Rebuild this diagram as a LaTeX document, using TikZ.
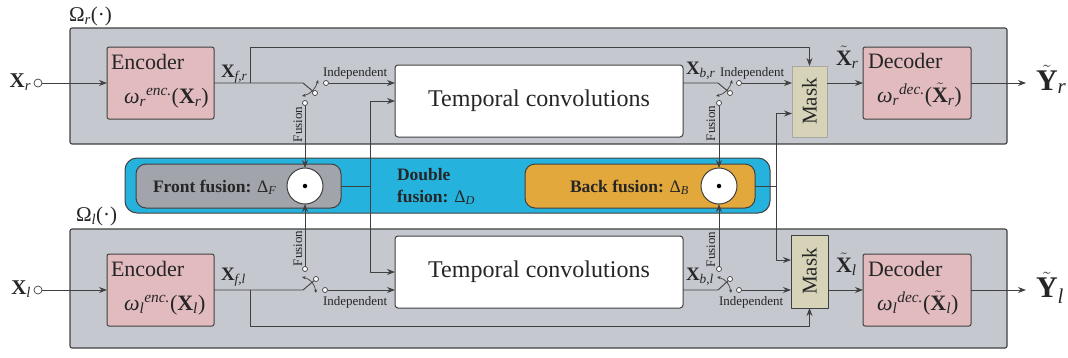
\documentclass[tikz,border=0pt]{standalone}
\usepackage{fontspec}
\setmainfont{Liberation Serif}
\usepackage{amsmath}
\usetikzlibrary{arrows.meta,calc}
\definecolor{lc}{HTML}{404040}
\definecolor{txc}{HTML}{262626}
\definecolor{grpc}{HTML}{C5C8CF}
\definecolor{pinkc}{HTML}{E2BBBE}
\definecolor{maskc}{HTML}{D6D3B9}
\definecolor{mlight}{HTML}{A8A8A2}
\definecolor{bluec}{HTML}{25B3DE}
\definecolor{fgray}{HTML}{A1A4AA}
\definecolor{orangec}{HTML}{E3A83B}
\newcommand\mi[1]{\text{\normalfont\itshape #1}}
\newcommand\bX{\textbf{X}}
\newcommand\fsz[1]{\fontsize{#1}{#1}\selectfont}
\begin{document}
\begin{tikzpicture}[x=1pt,y=-1pt,line join=round,
 ln/.style={draw=lc, line width=0.9pt},
 arr/.style={ln, -{Stealth[length=8pt,width=6pt]}},
 swarr/.style={ln, line width=0.7pt, {Stealth[length=3.5pt,width=3pt]}-{Stealth[length=3.5pt,width=3pt]}},
 grp/.style={draw=lc, fill=grpc, line width=1.1pt, rounded corners=2pt, inner sep=0pt, outer sep=0pt},
 pinkbox/.style={draw=lc, fill=pinkc, line width=1pt, rounded corners=2pt, inner sep=0pt, outer sep=0pt},
 tcbox/.style={draw=lc, fill=white, line width=1pt, rounded corners=3pt, inner sep=0pt, outer sep=0pt, text=txc, font=\fsz{24}},
 maskbox/.style={fill=maskc, line width=1pt, inner sep=0pt, outer sep=0pt, text=txc, font=\fsz{21}},
 band/.style={draw=lc, fill=bluec, line width=1pt, rounded corners=12pt, inner sep=0pt, outer sep=0pt},
 fusbox/.style={draw=lc, line width=1pt, rounded corners=10pt, inner sep=0pt, outer sep=0pt},
 fcirc/.style={circle, draw=lc, fill=white, line width=1pt, minimum size=36pt, inner sep=0pt, outer sep=0pt},
 dotn/.style={circle, fill=black, minimum size=4.5pt, inner sep=0pt},
 pin/.style={circle, draw=lc, fill=white, line width=0.7pt, minimum size=5pt, inner sep=0pt, outer sep=0pt},
 txt/.style={inner sep=0pt, outer sep=0pt, text=txc},
 ts/.style={txt, font=\fsz{13}},
 tb/.style={txt, font=\bfseries\fsz{17.5}},
 tl/.style={txt, font=\fsz{22}},
 tfus/.style={ts, rotate=90, anchor=base west}
]
\useasboundingbox (0,0) rectangle (1068,357);

% groups
\node[grp, minimum width=937pt, minimum height=116pt] (omR) at (538.5,86) {};
\node[grp, minimum width=937pt, minimum height=119pt] (omL) at (538.5,288.5) {};
\node[txt, anchor=base west, font=\fsz{21}] (omRl) at (69,21) {$\text{Ω}_{\mi{r}}\text{(·)}$};
\node[txt, anchor=base west, font=\fsz{21}] (omLl) at (76,221) {$\text{Ω}_{\mi{l}}\text{(·)}$};

% fusion band
\node[band, minimum width=645pt, minimum height=55pt] (bandn) at (447.5,185.5) {};
\node[fusbox, fill=fgray, minimum width=205pt, minimum height=44pt] (front) at (238.5,186) {};
\node[fusbox, fill=orangec, minimum width=230pt, minimum height=44pt] (back) at (640,186) {};
\node[fcirc] (fcF) at (305,186) {};
\node[dotn] (fcFd) at (fcF) {};
\node[fcirc] (fcB) at (719,186) {};
\node[dotn] (fcBd) at (fcB) {};
\node[tb, anchor=base west] (frontl) at (153,192) {Front fusion: $\text{\normalfont Δ}_{\mi{F}}$};
\node[tb, anchor=base west] (backl) at (570,192) {Back fusion: $\text{\normalfont Δ}_{\mi{B}}$};
\node[tb, anchor=base west] (dfl1) at (397,180) {Double};
\node[tb, anchor=base west] (dfl2) at (397,202) {fusion: $\text{\normalfont Δ}_{\mi{D}}$};

% ---------------- top row ----------------
\node[pin, minimum size=8pt] (inR) at (38,83) {};
\node[txt, anchor=base east, font=\fsz{21}] (inRl) at (31,87) {$\bX_{\mi{r}}$};
\node[pinkbox, minimum width=107pt, minimum height=72pt] (encR) at (160.5,83) {};
\node[tl, anchor=base west] (encRt) at (111,69) {Encoder};
\node[tl, anchor=base west] (encRm) at (124,103) {$\mi{ω}_{\mi{r}}{}^{\mi{enc.}}\text{(}\bX_{\mi{r}}\text{)}$};
\node[txt, anchor=base west, font=\fsz{19}] (xfr) at (221,77) {$\bX_{\mi{f,r}}$};
\node[tcbox, minimum width=288pt, minimum height=72pt] (tcR) at (539,101) {Temporal convolutions};
\node[txt, anchor=base west, font=\fsz{19}] (xbr) at (686,74) {$\bX_{\mi{b,r}}$};
\node[maskbox, draw=mlight, minimum width=35pt, minimum height=71pt] (maskR) at (809.5,101.5) {\rotatebox{90}{Mask}};
\node[txt, anchor=base west, font=\fsz{22}] (xtr) at (836,65) {$\tilde{\bX}_{\mi{r}}$};
\node[pinkbox, minimum width=108pt, minimum height=72pt] (decR) at (917,83) {};
\node[tl, anchor=base west] (decRt) at (868,68) {Decoder};
\node[tl, anchor=base west] (decRm) at (877,102) {$\mi{ω}_{\mi{r}}{}^{\mi{dec.}}\text{(}\tilde{\bX}_{\mi{r}}\text{)}$};
\coordinate (outR) at (1026,83);
\node[txt, anchor=base west, font=\fsz{30}] (yr) at (1036,90) {$\tilde{\textbf{Y}}_{\mi{r}}$};

% switch 1 top
\coordinate (sR1a) at (303,83);
\node[pin] (sR1p) at (315,93) {};
\node[pin] (sR1i) at (326,83) {};
\node[pin] (sR1f) at (305,103) {};
\coordinate (sR1c1) at (302,96);
\coordinate (sR1c2) at (318,80);
\node[ts, anchor=base west] (sR1il) at (323,76) {Independent};
\node[tfus] (sR1fl) at (302,142) {Fusion};
% switch 2 top
\coordinate (sR2a) at (718,83);
\node[pin] (sR2p) at (730,93) {};
\node[pin] (sR2i) at (739,83) {};
\node[pin] (sR2f) at (719,103) {};
\coordinate (sR2c1) at (716,96);
\coordinate (sR2c2) at (732,80);
\node[ts, anchor=base west] (sR2il) at (720,76) {Independent};
\node[tfus] (sR2fl) at (715,141) {Fusion};

% ---------------- bottom row ----------------
\node[pin, minimum size=8pt] (inL) at (38,290) {};
\node[txt, anchor=base east, font=\fsz{21}] (inLl) at (31,294) {$\bX_{\mi{l}}$};
\node[pinkbox, minimum width=107pt, minimum height=72pt] (encL) at (160.5,290) {};
\node[tl, anchor=base west] (encLt) at (111,276) {Encoder};
\node[tl, anchor=base west] (encLm) at (124,310) {$\mi{ω}_{\mi{l}}{}^{\mi{enc.}}\text{(}\bX_{\mi{l}}\text{)}$};
\node[txt, anchor=base west, font=\fsz{19}] (xfl) at (221,280) {$\bX_{\mi{f,l}}$};
\node[tcbox, minimum width=288pt, minimum height=72pt] (tcL) at (539,272) {Temporal convolutions};
\node[txt, anchor=base west, font=\fsz{19}] (xbl) at (686,280) {$\bX_{\mi{b,l}}$};
\node[maskbox, draw=lc, minimum width=37pt, minimum height=73pt] (maskL) at (809.5,271.5) {\rotatebox{90}{Mask}};
\node[txt, anchor=base west, font=\fsz{22}] (xtl) at (836,272) {$\tilde{\bX}_{\mi{l}}$};
\node[pinkbox, minimum width=108pt, minimum height=72pt] (decL) at (917,290) {};
\node[tl, anchor=base west] (decLt) at (868,276) {Decoder};
\node[tl, anchor=base west] (decLm) at (877,310) {$\mi{ω}_{\mi{l}}{}^{\mi{dec.}}\text{(}\tilde{\bX}_{\mi{l}}\text{)}$};
\coordinate (outL) at (1026,290);
\node[txt, anchor=base west, font=\fsz{30}] (yl) at (1036,297) {$\tilde{\textbf{Y}}_{\mi{l}}$};

% switch 1 bottom
\coordinate (sL1a) at (303,290);
\node[pin] (sL1p) at (316,279) {};
\node[pin] (sL1i) at (325,290) {};
\node[pin] (sL1f) at (305,269) {};
\coordinate (sL1c1) at (302,277);
\coordinate (sL1c2) at (316,293);
\node[ts, anchor=base west] (sL1il) at (323,305) {Independent};
\node[tfus] (sL1fl) at (302,266) {Fusion};
% switch 2 bottom
\coordinate (sL2a) at (718,290);
\node[pin] (sL2p) at (730,279) {};
\node[pin] (sL2i) at (739,290) {};
\node[pin] (sL2f) at (719,269) {};
\coordinate (sL2c1) at (717,277);
\coordinate (sL2c2) at (731,293);
\node[ts, anchor=base west] (sL2il) at (719,305) {Independent};
\node[tfus] (sL2fl) at (715,267) {Fusion};

% junction coordinates
\coordinate (byR) at (250,83);
\coordinate (byRc) at (250,47);
\coordinate (byL) at (250,290);
\coordinate (byLc) at (250,326);
\coordinate (ffj) at (370,186);
\coordinate (bfj) at (776,186);

% ---------------- connectors ----------------
% top row
\draw[arr] (inR) -- (encR.west);
\draw[ln] (encR.east) -- (sR1a) -- (sR1p);
\draw[swarr] (sR1c1) .. controls (311,94) and (316,88) .. (sR1c2);
\draw[arr] (sR1i) -- (sR1i -| tcR.west);
\draw[ln] (tcR.east |- sR2a) -- (sR2a) -- (sR2p);
\draw[swarr] (sR2c1) .. controls (725,94) and (730,88) .. (sR2c2);
\draw[arr] (sR2i) -- (sR2i -| maskR.west);
\draw[arr] (byR) -- (byRc) -| (maskR.north);
\draw[arr] (maskR.east |- decR.west) -- (decR.west);
\draw[arr] (decR.east) -- (outR);
% bottom row
\draw[arr] (inL) -- (encL.west);
\draw[ln] (encL.east) -- (sL1a) -- (sL1p);
\draw[swarr] (sL1c1) .. controls (311,279) and (315,285) .. (sL1c2);
\draw[arr] (sL1i) -- (sL1i -| tcL.west);
\draw[ln] (tcL.east |- sL2a) -- (sL2a) -- (sL2p);
\draw[swarr] (sL2c1) .. controls (726,279) and (730,285) .. (sL2c2);
\draw[arr] (sL2i) -- (sL2i -| maskL.west);
\draw[arr] (byL) -- (byLc) -| (maskL.south);
\draw[arr] (maskL.east |- decL.west) -- (decL.west);
\draw[arr] (decL.east) -- (outL);
% fusion links
\draw[arr] (sR1f) -- (fcF.north);
\draw[arr] (sL1f) -- (fcF.south);
\draw[arr] (sR2f) -- (fcB.north);
\draw[arr] (sL2f) -- (fcB.south);
\draw[ln] (front.east) -- (ffj);
\draw[arr] (ffj) |- (tcR.west);
\draw[arr] (ffj) |- (tcL.west);
\draw[ln] (back.east) -- (bfj);
\draw[arr] (bfj) |- ($(maskR.west)+(0,12)$);
\draw[arr] (bfj) |- ($(maskL.west)+(0,-11.5)$);
\end{tikzpicture}
\end{document}
